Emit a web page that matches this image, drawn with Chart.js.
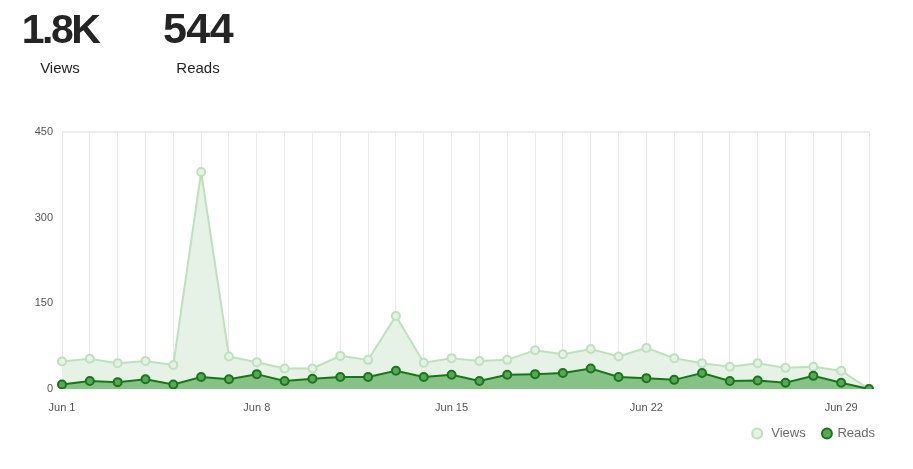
<!DOCTYPE html>
<html>
<head>
<meta charset="utf-8">
<script src="https://cdn.jsdelivr.net/npm/chart.js@4/dist/chart.umd.min.js"></script>
<style>
  html, body { margin: 0; padding: 0; background: #fff; width: 913px; height: 469px; overflow: hidden; }
  #wrap { position: absolute; left: 0; top: 0; width: 913px; height: 469px; }
  .stat { position: absolute; top: 0; width: 140px; text-align: center; color: #242424; font-family: "Liberation Sans", Arial, sans-serif; }
  .num { position: absolute; left: 0; width: 140px; top: 4px; font-size: 41px; font-weight: bold; line-height: 50px; }
  .lbl { position: absolute; left: 0; width: 140px; top: 58px; font-size: 15px; line-height: 20px; }
</style>
</head>
<body>
<div id="wrap"><canvas id="c" width="913" height="469"></canvas></div>
<div class="stat" style="left:-10px"><div class="num" style="letter-spacing:-2.5px">1.8K</div><div class="lbl">Views</div></div>
<div class="stat" style="left:128px"><div class="num" style="font-size:43px;top:3px;letter-spacing:-0.5px">544</div><div class="lbl">Reads</div></div>
<script>
const categories = ["Jun 1","Jun 2","Jun 3","Jun 4","Jun 5","Jun 6","Jun 7","Jun 8","Jun 9","Jun 10",
  "Jun 11","Jun 12","Jun 13","Jun 14","Jun 15","Jun 16","Jun 17","Jun 18","Jun 19","Jun 20",
  "Jun 21","Jun 22","Jun 23","Jun 24","Jun 25","Jun 26","Jun 27","Jun 28","Jun 29","Jun 30"];
const views = [48,53,45,49,42,380,57,47,36,36,58,51,128,46,54,49,51,68,61,70,57,72,54,45,39,45,37,39,32,0];
const reads = [8,14,12,17,8,21,17,26,14,18,21,21,32,21,25,14,25,26,28,36,21,19,16,28,14,15,11,23,11,0];
const yTicks = [0,150,300,450];
const xTickLabels = ["Jun 1","Jun 8","Jun 15","Jun 22","Jun 29"];

const FONT = "'Liberation Sans', Arial, sans-serif";

new Chart(document.getElementById('c'), {
  type: 'line',
  data: {
    labels: categories,
    datasets: [
      {
        label: 'Views',
        data: views,
        order: 1,
        borderColor: '#bfe0bf',
        backgroundColor: '#e6f2e6',
        pointBackgroundColor: '#e6f2e6',
        pointBorderColor: '#bfe0bf',
        borderWidth: 2,
        pointRadius: 4,
        pointBorderWidth: 2,
        tension: 0,
        fill: '+1'
      },
      {
        label: 'Reads',
        data: reads,
        order: 0,
        borderColor: '#1a751a',
        backgroundColor: '#86c286',
        pointBackgroundColor: '#5ba55b',
        pointBorderColor: '#1a751a',
        borderWidth: 2,
        pointRadius: 4,
        pointBorderWidth: 2,
        tension: 0,
        fill: 'origin'
      }
    ]
  },
  options: {
    responsive: false,
    animation: false,
    devicePixelRatio: 1,
    layout: { padding: { left: 0, top: 132, right: 28, bottom: 19 } },
    plugins: {
      filler: { drawTime: 'beforeDatasetsDraw' },
      tooltip: { enabled: false },
      legend: {
        position: 'bottom',
        align: 'end',
        labels: {
          usePointStyle: true,
          pointStyle: 'circle',
          boxWidth: 8,
          boxHeight: 7,
          padding: 10,
          color: '#6b6b6b',
          font: { family: FONT, size: 13 },
          sort: function(a, b) { return a.datasetIndex - b.datasetIndex; },
          generateLabels: function(chart) {
            const items = Chart.defaults.plugins.legend.labels.generateLabels(chart);
            items.forEach(function(it) {
              if (it.datasetIndex === 0) it.text = ' ' + it.text + '  ';
            });
            return items;
          }
        }
      }
    },
    scales: {
      x: {
        grid: { color: '#e8e8e8', lineWidth: 1, drawTicks: false },
        border: { display: false },
        ticks: {
          autoSkip: false,
          maxRotation: 0,
          padding: 12,
          color: '#555',
          font: { family: FONT, size: 11 },
          callback: function(v, i) {
            const l = categories[i];
            return xTickLabels.includes(l) ? l : '';
          }
        },
        afterFit: function(s) { s.height = 28; }
      },
      y: {
        min: 0,
        max: 450,
        afterBuildTicks: function(s) { s.ticks = yTicks.map(v => ({ value: v })); },
        grid: {
          drawTicks: false,
          color: function(ctx) { return ctx.tick && ctx.tick.value === 450 ? '#ececec' : 'rgba(0,0,0,0)'; },
          lineWidth: 2
        },
        border: { display: false },
        ticks: {
          padding: 9,
          color: '#555',
          font: { family: FONT, size: 11 }
        },
        afterFit: function(s) { s.width = 62; }
      },
      yr: {
        position: 'right',
        display: true,
        grid: { display: false },
        border: { display: false },
        ticks: { display: false },
        afterFit: function(s) { s.width = 16; }
      }
    }
  }
});
</script>
</body>
</html>
